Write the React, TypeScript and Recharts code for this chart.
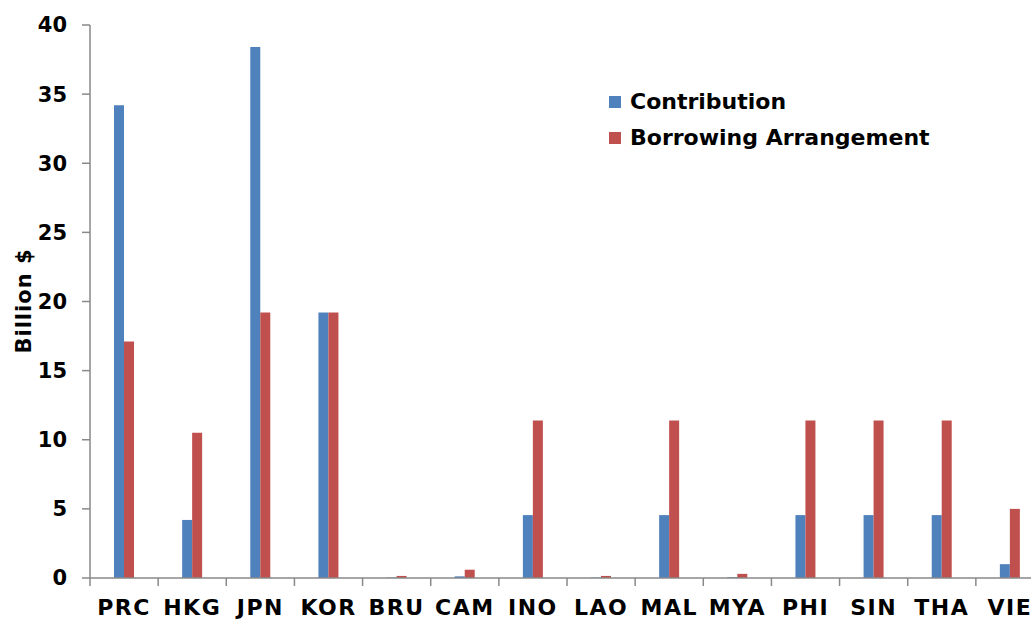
import React from 'react';
import { BarChart, Bar, XAxis, YAxis, Legend } from 'recharts';

const categories = ['PRC', 'HKG', 'JPN', 'KOR', 'BRU', 'CAM', 'INO', 'LAO', 'MAL', 'MYA', 'PHI', 'SIN', 'THA', 'VIE'];
const contribution = [34.2, 4.2, 38.4, 19.2, 0.03, 0.12, 4.55, 0.03, 4.55, 0.06, 4.55, 4.55, 4.55, 1.0];
const borrowing = [17.1, 10.5, 19.2, 19.2, 0.15, 0.6, 11.4, 0.15, 11.4, 0.3, 11.4, 11.4, 11.4, 5.0];
const yTicks = [0, 5, 10, 15, 20, 25, 30, 35, 40];

const BLUE = '#4F81BD';
const RED = '#C0504D';
const AXIS = '#898989';
const FONT = '"DejaVu Sans", sans-serif';

const data = categories.map((c, i) => ({ name: c, contribution: contribution[i], borrowing: borrowing[i] }));

const CHART_W = 1060;
const CHART_H = 619;
const MARGIN = { top: 25, right: 16, bottom: 0, left: 0 };
const Y_W = 90;
const X_H = 41;
const BAND = (CHART_W - MARGIN.left - MARGIN.right - Y_W) / categories.length;

const XTick = (props: any) => {
  const { x, y, payload } = props;
  return (
    <g>
      <line x1={x - BAND / 2} x2={x - BAND / 2} y1={y} y2={y + 8} stroke={AXIS} strokeWidth={1.5} />
      <text x={x} y={y + 37} textAnchor="middle" fontFamily={FONT} fontWeight="bold" fontSize={22} fill="#000" letterSpacing={1.5}>
        {payload.value}
      </text>
    </g>
  );
};

const LegendContent = () => (
  <div style={{ fontFamily: FONT, fontWeight: 'bold', fontSize: 22, color: '#000', lineHeight: '36px' }}>
    <div style={{ display: 'flex', alignItems: 'center' }}>
      <span style={{ display: 'inline-block', width: 12, height: 12, background: BLUE, marginRight: 9 }} />
      Contribution
    </div>
    <div style={{ display: 'flex', alignItems: 'center' }}>
      <span style={{ display: 'inline-block', width: 12, height: 12, background: RED, marginRight: 9 }} />
      Borrowing Arrangement
    </div>
  </div>
);

export default function App() {
  return (
    <div style={{ position: 'fixed', left: 0, top: 0, width: 1031, height: 619, overflow: 'hidden', background: '#fff' }}>
      <BarChart width={CHART_W} height={CHART_H} data={data} margin={MARGIN} barGap={0} barSize={10}>
        <XAxis
          dataKey="name"
          height={X_H}
          interval={0}
          tickLine={false}
          tickSize={0}
          tickMargin={0}
          axisLine={{ stroke: AXIS, strokeWidth: 1.5 }}
          tick={<XTick />}
        />
        <YAxis
          width={Y_W}
          domain={[0, 40]}
          ticks={yTicks}
          interval={0}
          tickSize={8}
          tickMargin={15}
          axisLine={{ stroke: AXIS, strokeWidth: 1.5 }}
          tickLine={{ stroke: AXIS, strokeWidth: 1.5 }}
          tick={{ fontFamily: FONT, fontWeight: 'bold', fontSize: 21, fill: '#000' }}
          label={{
            content: () => (
              <text
                x={24}
                y={301}
                transform="rotate(-90, 24, 301)"
                textAnchor="middle"
                dominantBaseline="central"
                fontFamily={FONT}
                fontWeight="bold"
                fontSize={21}
                letterSpacing={1}
                fill="#000"
              >
                Billion $
              </text>
            ),
          }}
        />
        <Legend
          layout="vertical"
          align="center"
          verticalAlign="middle"
          content={<LegendContent />}
          wrapperStyle={{ left: 609, top: 84, width: 'auto', height: 'auto' }}
        />
        <Bar dataKey="contribution" name="Contribution" fill={BLUE} isAnimationActive={false} />
        <Bar dataKey="borrowing" name="Borrowing Arrangement" fill={RED} isAnimationActive={false} />
      </BarChart>
    </div>
  );
}
